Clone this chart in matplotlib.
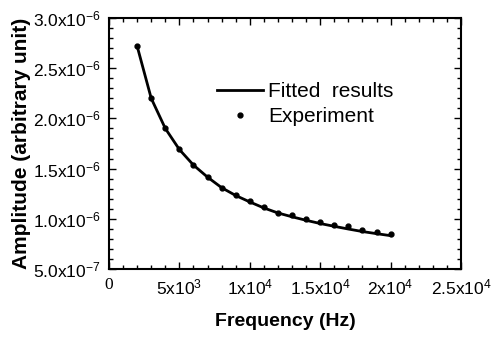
import matplotlib
matplotlib.use('Agg')

import matplotlib.pyplot as plt
from matplotlib.ticker import MultipleLocator

plt.rcParams['font.family'] = ['Liberation Sans', 'DejaVu Sans']
plt.rcParams['mathtext.fontset'] = 'custom'
plt.rcParams['mathtext.rm'] = 'Liberation Sans'
plt.rcParams['mathtext.default'] = 'regular'

# Data (Hz, arbitrary unit)
freq = [2000, 3000, 4000, 5000, 6000, 7000, 8000, 9000, 10000, 11000,
        12000, 13000, 14000, 15000, 16000, 17000, 18000, 19000, 20000]
experiment = [2.72e-6, 2.20e-6, 1.905e-6, 1.693e-6, 1.533e-6, 1.416e-6,
              1.31e-6, 1.237e-6, 1.177e-6, 1.117e-6, 1.061e-6, 1.034e-6,
              1.001e-6, 0.967e-6, 0.937e-6, 0.924e-6, 0.887e-6, 0.871e-6,
              0.851e-6]
fitted = [2.72e-6, 2.20e-6, 1.90e-6, 1.69e-6, 1.535e-6, 1.415e-6,
          1.31e-6, 1.232e-6, 1.168e-6, 1.108e-6, 1.058e-6, 1.02e-6,
          0.985e-6, 0.953e-6, 0.925e-6, 0.898e-6, 0.873e-6, 0.852e-6,
          0.832e-6]

x_ticks = [0, 5000, 10000, 15000, 20000, 25000]
x_tick_labels = ['0', r'5x10$^3$', r'1x10$^4$', r'1.5x10$^4$',
                 r'2x10$^4$', r'2.5x10$^4$']
y_ticks = [5e-7, 1.0e-6, 1.5e-6, 2.0e-6, 2.5e-6, 3.0e-6]
y_tick_labels = [r'5.0x10$^{-7}$', r'1.0x10$^{-6}$', r'1.5x10$^{-6}$',
                 r'2.0x10$^{-6}$', r'2.5x10$^{-6}$', r'3.0x10$^{-6}$']

fig = plt.figure(figsize=(4.94, 3.37), dpi=100)
ax = fig.add_axes([0.2206, 0.2018, 0.7126, 0.7448])

ax.plot(freq, fitted, color='black', linewidth=2.0, label='Fitted  results')
ax.plot(freq, experiment, linestyle='none', marker='o', markersize=3.5,
        color='black', label='Experiment')

ax.set_xlim(0, 25000)
ax.set_ylim(5e-7, 3e-6)

ax.set_xticks(x_ticks)
ax.set_xticklabels(x_tick_labels, fontsize=12.5)
ax.set_yticks(y_ticks)
ax.set_yticklabels(y_tick_labels, fontsize=12.5)
ax.get_xticklabels()[0].set_fontfamily('Liberation Serif')
ax.xaxis.set_minor_locator(MultipleLocator(1000))
ax.yaxis.set_minor_locator(MultipleLocator(1e-7))

ax.tick_params(which='both', direction='in', top=True, right=True,
               width=1.0)
ax.tick_params(which='major', length=5, pad=6)
ax.tick_params(which='minor', length=3)
for s in ax.spines.values():
    s.set_linewidth(1.5)

ax.set_xlabel('Frequency (Hz)', fontsize=14, fontweight='bold')
ax.set_ylabel('Amplitude (arbitrary unit)', fontsize=15, fontweight='bold')
ax.xaxis.set_label_coords(0.5, -0.175)
ax.yaxis.set_label_coords(-0.222, 0.5)

ax.legend(loc='upper left', bbox_to_anchor=(0.307, 0.745), frameon=False,
          fontsize=15, handlelength=2.2, handletextpad=0.25,
          labelspacing=0.3, borderpad=0, borderaxespad=0, numpoints=1)

plt.savefig('out.png', dpi=100)
plt.close(fig)
